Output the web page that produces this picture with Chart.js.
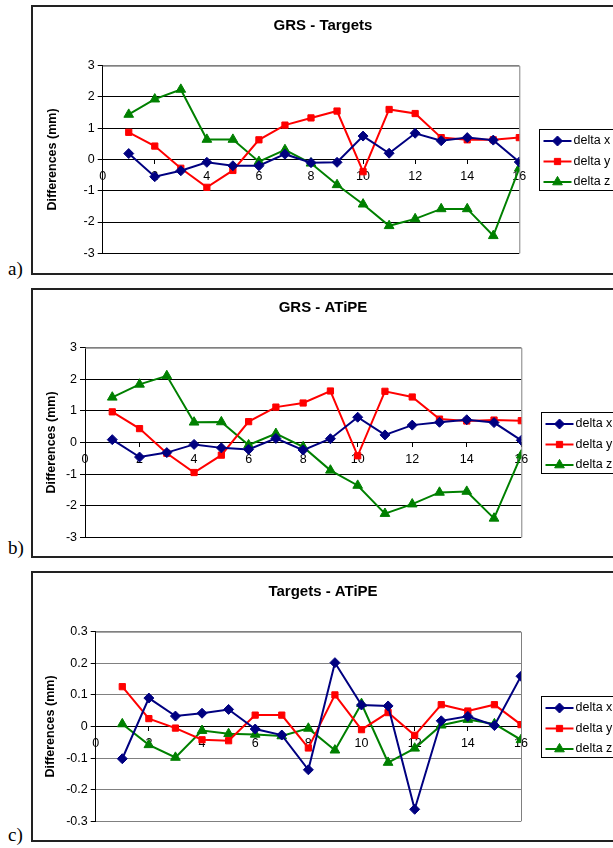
<!DOCTYPE html>
<html>
<head>
<meta charset="utf-8">
<script src="https://cdn.jsdelivr.net/npm/chart.js@4.4.1/dist/chart.umd.min.js"></script>
<style>
html, body { margin: 0; padding: 0; background: #fff; overflow: hidden; width: 613px; height: 848px; }
.panel { position: absolute; left: 31px; width: 582px; border: 2px solid #222; background: #fff; }
.panel canvas { display: block; }
.tag { position: absolute; left: 8px; font-family: "Liberation Serif", "DejaVu Serif", serif; font-size: 19px; color: #000; }
</style>
</head>
<body>
<div class="panel" style="top:5px;height:266px"><canvas id="chartA" width="580" height="266"></canvas></div>
<div class="panel" style="top:288px;height:266px"><canvas id="chartB" width="580" height="266"></canvas></div>
<div class="panel" style="top:571px;height:267px"><canvas id="chartC" width="580" height="267"></canvas></div>
<span class="tag" style="top:258px">a)</span>
<span class="tag" style="top:537px">b)</span>
<span class="tag" style="top:824px">c)</span>
<script>
// point numbers along the x axis
const pointNumbers = [1, 2, 3, 4, 5, 6, 7, 8, 9, 10, 11, 12, 13, 14, 15, 16];
const seriesNames = ["delta x", "delta y", "delta z"];

// a) GRS - Targets
const grsTargetsX = [0.19, -0.55, -0.36, -0.09, -0.2, -0.2, 0.17, -0.1, -0.09, 0.75, 0.2, 0.84, 0.6, 0.7, 0.62, -0.08];
const grsTargetsY = [0.87, 0.43, -0.28, -0.89, -0.35, 0.63, 1.1, 1.33, 1.55, -0.39, 1.6, 1.47, 0.7, 0.63, 0.63, 0.7];
const grsTargetsZ = [1.44, 1.93, 2.24, 0.64, 0.64, -0.07, 0.31, -0.12, -0.81, -1.43, -2.12, -1.9, -1.58, -1.58, -2.44, -0.28];

// b) GRS - ATiPE
const grsAtipeX = [0.09, -0.46, -0.32, -0.06, -0.17, -0.22, 0.13, -0.24, 0.12, 0.8, 0.24, 0.55, 0.64, 0.72, 0.63, 0.07];
const grsAtipeY = [0.97, 0.44, -0.34, -0.95, -0.4, 0.66, 1.12, 1.25, 1.63, -0.42, 1.62, 1.44, 0.74, 0.68, 0.71, 0.69];
const grsAtipeZ = [1.43, 1.84, 2.11, 0.64, 0.65, -0.08, 0.28, -0.14, -0.88, -1.36, -2.25, -1.95, -1.58, -1.55, -2.4, -0.4];

// c) Targets - ATiPE
const targetsAtipeX = [-0.102, 0.09, 0.033, 0.042, 0.054, -0.008, -0.027, -0.137, 0.202, 0.068, 0.065, -0.262, 0.018, 0.032, 0.003, 0.159];
const targetsAtipeY = [0.126, 0.025, -0.005, -0.042, -0.045, 0.036, 0.036, -0.068, 0.1, -0.01, 0.044, -0.028, 0.069, 0.049, 0.069, 0.006];
const targetsAtipeZ = [0.008, -0.058, -0.098, -0.013, -0.023, -0.025, -0.03, -0.006, -0.075, 0.072, -0.114, -0.069, 0.004, 0.022, 0.008, -0.042];

const FONT = "'Liberation Sans', Arial, sans-serif";
const seriesStyles = [
    { color: "#000080", pointStyle: "rectRot", radius: 5 },
    { color: "#FF0000", pointStyle: "rect", radius: 4.4 },
    { color: "#008000", pointStyle: "triangle", radius: 5.6 },
];

// gray frame on top/right of the plot area + boxed legend on the right
const frameAndLegend = {
    id: "frameAndLegend",
    beforeDatasetsDraw(chart) {
        const { ctx, chartArea: a } = chart;
        ctx.save();
        ctx.strokeStyle = "#808080";
        ctx.lineWidth = 1;
        ctx.beginPath();
        ctx.moveTo(a.left, a.top + 0.5);
        ctx.lineTo(a.right + 0.5, a.top + 0.5);
        ctx.lineTo(a.right + 0.5, a.bottom);
        ctx.stroke();
        ctx.restore();
    },
    afterDraw(chart) {
        const { ctx, chartArea: a } = chart;
        const bx = Math.round(a.right + 19.5) + 0.5;
        const by = Math.round((a.top + a.bottom) / 2 - 30.5) + 0.5;
        ctx.save();
        ctx.fillStyle = "#fff";
        ctx.strokeStyle = "#000";
        ctx.lineWidth = 1;
        ctx.fillRect(bx, by, 90, 61);
        ctx.strokeRect(bx, by, 90, 61);
        ctx.font = "12.5px " + FONT;
        ctx.textBaseline = "middle";
        chart.data.datasets.forEach((ds, i) => {
            const st = seriesStyles[i];
            const y = by + 11.5 + i * 20.5;
            ctx.strokeStyle = st.color;
            ctx.fillStyle = st.color;
            ctx.lineWidth = 2;
            ctx.beginPath();
            ctx.moveTo(bx + 4, y);
            ctx.lineTo(bx + 32, y);
            ctx.stroke();
            ctx.lineWidth = 1;
            Chart.helpers.drawPoint(ctx, { pointStyle: st.pointStyle, radius: st.radius, rotation: 0, borderWidth: 1 }, bx + 18, y);
            ctx.fillStyle = "#000";
            ctx.fillText(ds.label, bx + 34, y);
        });
        ctx.restore();
    },
};

// build config for one difference chart
function _build_diff_config(title, series, yRange, layout) {
    const datasets = series.map((values, i) => ({
        label: seriesNames[i],
        data: pointNumbers.map((x, j) => ({ x: x, y: values[j] })),
        borderColor: seriesStyles[i].color,
        backgroundColor: seriesStyles[i].color,
        borderWidth: 2,
        tension: 0,
        pointStyle: seriesStyles[i].pointStyle,
        pointRadius: seriesStyles[i].radius,
        pointBorderWidth: 1,
        pointHoverRadius: seriesStyles[i].radius,
    }));
    const gridColor = yRange.gridColor;
    return {
        type: "line",
        data: { datasets: datasets },
        options: {
            responsive: false,
            animation: false,
            events: [],
            layout: { padding: { left: 0, right: 0, top: 0, bottom: layout.bottom } },
            plugins: {
                legend: { display: false },
                tooltip: { enabled: false },
                title: {
                    display: true,
                    text: title,
                    color: "#000",
                    font: { family: FONT, size: 15, weight: "bold" },
                    padding: { top: layout.titleTop, bottom: layout.titleBottom },
                },
            },
            scales: {
                x: {
                    type: "linear",
                    min: 0,
                    max: 16,
                    position: { y: 0 },
                    ticks: { stepSize: 2, padding: 6, maxRotation: 0, color: "#000", font: { family: FONT, size: 12.5 } },
                    grid: { drawOnChartArea: false, tickLength: 4, color: "#000" },
                    border: { color: "#000", width: 1 },
                },
                y: {
                    min: yRange.min,
                    max: yRange.max,
                    ticks: {
                        stepSize: yRange.step,
                        padding: 3,
                        color: "#000",
                        font: { family: FONT, size: 12.5 },
                        callback: (v) => String(Number(v.toFixed(1))),
                    },
                    grid: {
                        color: (c) => (c.tick.value === yRange.max ? "#808080" : (c.tick.value === 0 ? "#000" : gridColor)),
                        tickColor: "#000",
                        tickLength: 5,
                    },
                    border: { color: "#000", width: 1 },
                    title: {
                        display: true,
                        text: "Differences (mm)",
                        color: "#000",
                        font: { family: FONT, size: 12.5, weight: "bold" },
                        padding: { top: layout.yTitlePad, bottom: 0 },
                    },
                    afterFit: (s) => { s.width = layout.yWidth; },
                },
                yRight: {
                    position: "right",
                    min: 0,
                    max: 1,
                    ticks: { display: false },
                    grid: { display: false },
                    border: { display: false },
                    afterFit: (s) => { s.width = layout.rightWidth; },
                },
            },
        },
        plugins: [frameAndLegend],
    };
}

function create_diff_chart(canvasId, title, series, yRange, layout) {
    console.log("creating_" + canvasId);
    return new Chart(canvasId, _build_diff_config(title, series, yRange, layout));
}

create_diff_chart("chartA", "GRS - Targets", [grsTargetsX, grsTargetsY, grsTargetsZ],
    { min: -3, max: 3, step: 1, gridColor: "#000" },
    { yWidth: 69.7, rightWidth: 93.7, bottom: 19.7, titleTop: 10, titleBottom: 30.7, yTitlePad: 12.5 });
create_diff_chart("chartB", "GRS - ATiPE", [grsAtipeX, grsAtipeY, grsAtipeZ],
    { min: -3, max: 3, step: 1, gridColor: "#000" },
    { yWidth: 52, rightWidth: 91.7, bottom: 18.7, titleTop: 9.3, titleBottom: 30.4, yTitlePad: 11.2 });
create_diff_chart("chartC", "Targets - ATiPE", [targetsAtipeX, targetsAtipeY, targetsAtipeZ],
    { min: -0.3, max: 0.3, step: 0.1, gridColor: "#808080" },
    { yWidth: 62.7, rightWidth: 92, bottom: 18.7, titleTop: 10.3, titleBottom: 30.4, yTitlePad: 10.2 });
</script>
</body>
</html>
